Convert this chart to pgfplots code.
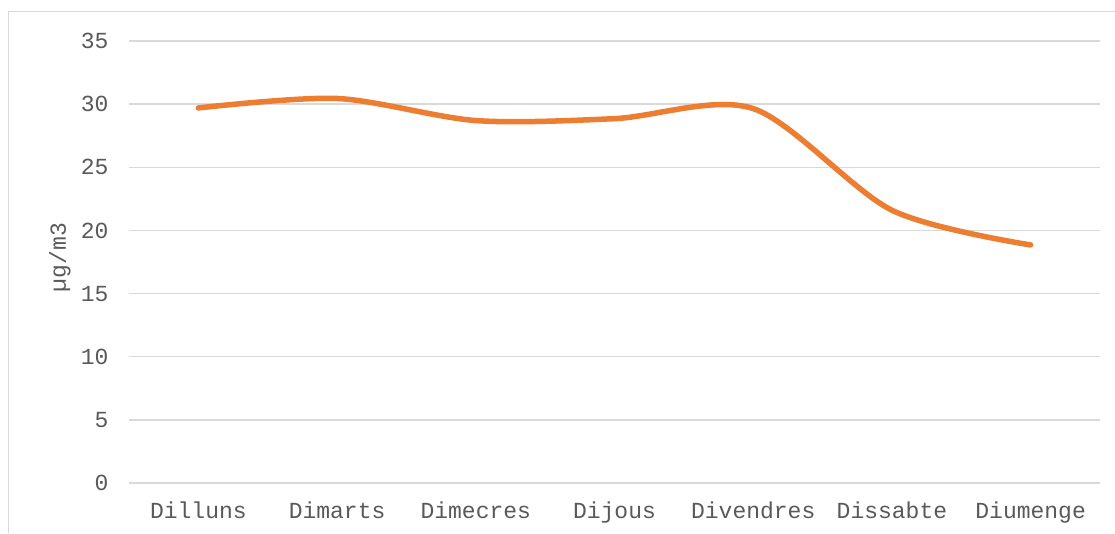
\documentclass[border=0pt]{standalone}
\usepackage{fontspec}
\setmainfont{Liberation Mono}
\usepackage{pgfplots}
\pgfplotsset{compat=1.18}
\definecolor{lineorange}{HTML}{ED7D31}
\definecolor{gridgray}{HTML}{D9D9D9}
\definecolor{textgray}{HTML}{595959}

\begin{document}
\begin{tikzpicture}[x=1pt,y=1pt]
\path[use as bounding box] (0,0) rectangle (1115,533);
% chart frame (left and top edges)
\draw[gridgray, line width=1.3pt] (8.5,0) -- (8.5,521.5) -- (1115,521.5);
\begin{axis}[
  at={(129pt,50pt)}, anchor=south west,
  scale only axis, width=971pt, height=442pt,
  xmin=-0.5, xmax=6.5, ymin=0, ymax=35,
  xtick={0,...,6},
  xticklabels={Dilluns,Dimarts,Dimecres,Dijous,Divendres,Dissabte,Diumenge},
  ytick={0,5,...,35},
  ymajorgrids, grid style={gridgray, line width=1.5pt},
  axis line style={draw=none}, major tick length=0pt,
  tick label style={font=\fontsize{23}{27}\selectfont, text=textgray},
  /pgf/number format/assume math mode=true,
  xticklabel style={yshift=-15pt},
  yticklabel style={xshift=-17pt},
  ylabel={µg/m3},
  ylabel style={font=\fontsize{23}{27}\selectfont, text=textgray,
    at={(axis description cs:-0.0711,0.51)}, anchor=center},
  clip=false,
]
\addplot[lineorange, line width=5.5pt, smooth, line cap=round] coordinates {
  (0,29.7) (1,30.45) (2,28.7) (3,28.85) (4,29.65) (5,21.6) (6,18.85)
};
\end{axis}
\end{tikzpicture}
\end{document}
